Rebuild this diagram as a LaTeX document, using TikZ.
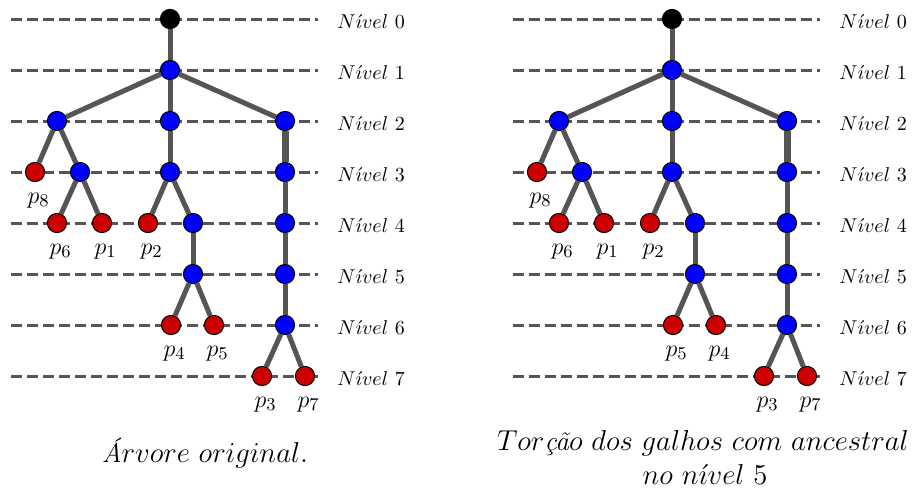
\documentclass[tikz,border=0pt]{standalone}
\usepackage{fontspec}
\usetikzlibrary{backgrounds}
\definecolor{nblue}{RGB}{0,0,255}
\definecolor{nred}{RGB}{204,0,0}
\definecolor{egray}{RGB}{85,85,85}
\newcommand\mytree[4]{%
\begin{scope}[shift={(#2,0)}]
  \node[rootn] (#1r) at (170,19) {};
  \node[inner] (#1n1) at (170,70) {};
  \node[inner] (#1a) at (57,121) {};
  \node[inner] (#1b) at (170,121) {};
  \node[inner] (#1c) at (285,121) {};
  \node[leaf]  (#1p8) at (35,172) {};
  \node[inner] (#1d) at (80,172) {};
  \node[inner] (#1e) at (170,172) {};
  \node[inner] (#1f) at (285,172) {};
  \node[leaf]  (#1p6) at (57,223) {};
  \node[leaf]  (#1p1) at (102,223) {};
  \node[leaf]  (#1p2) at (148,223) {};
  \node[inner] (#1g) at (193,223) {};
  \node[inner] (#1h) at (285,223) {};
  \node[inner] (#1i) at (193,274) {};
  \node[inner] (#1j) at (285,274) {};
  \node[leaf]  (#1p4) at (171,325) {};
  \node[leaf]  (#1p5) at (214,325) {};
  \node[inner] (#1k) at (285,325) {};
  \node[leaf]  (#1p3) at (262,376) {};
  \node[leaf]  (#1p7) at (305,376) {};
  % leaf labels
  \node[plab] (#1lp8) at ([xshift=1.8pt,yshift=-5.2pt]#1p8.south) {$p_8$};
  \node[plab] (#1lp6) at ([xshift=1.8pt,yshift=-5.2pt]#1p6.south) {$p_6$};
  \node[plab] (#1lp1) at ([xshift=1.8pt,yshift=-5.2pt]#1p1.south) {$p_1$};
  \node[plab] (#1lp2) at ([xshift=1.8pt,yshift=-5.2pt]#1p2.south) {$p_2$};
  \node[plab] (#1lp4) at ([xshift=1.8pt,yshift=-5.2pt]#1p4.south) {$#3$};
  \node[plab] (#1lp5) at ([xshift=1.8pt,yshift=-5.2pt]#1p5.south) {$#4$};
  \node[plab] (#1lp3) at ([xshift=1.8pt,yshift=-5.2pt]#1p3.south) {$p_3$};
  \node[plab] (#1lp7) at ([xshift=1.8pt,yshift=-5.2pt]#1p7.south) {$p_7$};
  % level labels and guides
  \foreach \l/\yy in {0/19,1/70,2/121,3/172,4/223,5/274,6/325,7/376}{
    \coordinate (#1gs\l) at (11,\yy);
    \coordinate (#1ge\l) at (318,\yy);
    \node[lvl] (#1lv\l) at (337,\yy+9) {$N\acute{\imath}vel\ \l$};
  }
  \begin{scope}[on background layer]
    \foreach \l in {0,...,7}{\draw[guide] (#1gs\l) -- (#1ge\l);}
    \draw[edge] (#1r) -- (#1n1);
    \draw[edge] (#1n1) -- (#1a);
    \draw[edge] (#1n1) -- (#1b);
    \draw[edge] (#1n1) -- (#1c);
    \draw[edge] (#1a) -- (#1p8);
    \draw[edge] (#1a) -- (#1d);
    \draw[edge] (#1b) -- (#1e);
    \draw[edge,line width=3.5pt] (#1c) -- (#1f);
    \draw[edge] (#1d) -- (#1p6);
    \draw[edge] (#1d) -- (#1p1);
    \draw[edge] (#1e) -- (#1p2);
    \draw[edge] (#1e) -- (#1g);
    \draw[edge] (#1f) -- (#1h);
    \draw[edge] (#1g) -- (#1i);
    \draw[edge] (#1h) -- (#1j);
    \draw[edge] (#1i) -- (#1p4);
    \draw[edge] (#1i) -- (#1p5);
    \draw[edge] (#1j) -- (#1k);
    \draw[edge] (#1k) -- (#1p3);
    \draw[edge] (#1k) -- (#1p7);
  \end{scope}
\end{scope}}
\begin{document}
\begin{tikzpicture}[x=0.5pt,y=-0.5pt,
  inner/.style={circle,draw=black,line width=0.5pt,fill=nblue,minimum size=9.6pt,inner sep=0pt},
  leaf/.style={inner,fill=nred},
  rootn/.style={inner,fill=black},
  edge/.style={draw=egray,line width=2.5pt},
  guide/.style={draw=egray,line width=1.5pt,dash pattern=on 5.3pt off 2.7pt},
  lvl/.style={anchor=base west,font=\normalsize,inner sep=0pt},
  plab/.style={font=\fontsize{13}{15}\selectfont,inner sep=0pt,anchor=north},
  capt/.style={font=\fontsize{13.6}{16}\selectfont,inner sep=0pt,anchor=base},
]
\useasboundingbox (0,0) rectangle (912,488);
\mytree{A}{0}{p_4}{p_5}
\mytree{B}{502}{p_5}{p_4}
\node[capt] (capA) at (205,462) {$\mbox{\itshape Á}rvore\ original.$};
\node[capt] (capB1) at (703,450) {$Tor\mbox{\itshape çã}o\ dos\ galhos\ com\ ancestral$};
\node[capt] (capB2) at (705,484) {$no\ n\acute{\imath}vel\ 5$};
\end{tikzpicture}
\end{document}
